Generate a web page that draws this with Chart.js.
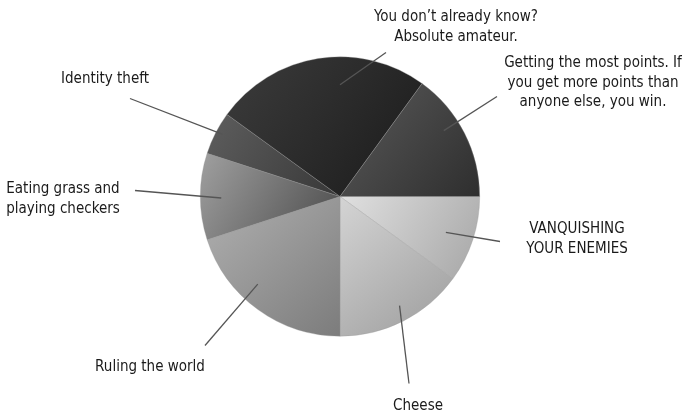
<!DOCTYPE html>
<html><head><meta charset="utf-8">
<script src="https://cdn.jsdelivr.net/npm/chart.js@4"></script>
<style>html,body{margin:0;padding:0;background:#fff}canvas{display:block}</style>
</head><body>
<canvas id="c" width="686" height="415"></canvas>
<script>
const categories = [
  ["VANQUISHING", "YOUR ENEMIES"],
  ["Cheese"],
  ["Ruling the world"],
  ["Eating grass and", "playing checkers"],
  ["Identity theft"],
  ["You don\u2019t already know?", "Absolute amateur."],
  ["Getting the most points. If", "you get more points than", "anyone else, you win."]
];
const shares = [10, 15, 20, 10, 5, 25, 15];
const lightShades = ["#e0e0e0", "#d4d4d4", "#b0b0b0", "#a0a0a0", "#5e5e5e", "#3c3c3c", "#5a5a5a"];
const darkShades  = ["#a6a6a6", "#9c9c9c", "#7c7c7c", "#4a4a4a", "#383838", "#1a1a1a", "#2e2e2e"];

// label layout: [angle fraction in slice, radius fraction, line end dx, dy, text dx, dy] relative to pie centre
const labelLayout = [
  [0.52, 0.80, 160, 45, 237, 33],
  [0.47, 0.89, 69, 187, 78, 210],
  [0.60, 0.86, -135, 149, -190, 171],
  [0.48, 0.85, -205, -6, -277, -7],
  [0.55, 0.95, -210, -98, -235, -117],
  [0.60, 0.80, 46, -144, 116, -179],
  [0.40, 0.88, 157, -100, 253, -133]
];

function sliceGradient(ctx) {
  const chart = ctx.chart, area = chart.chartArea, i = ctx.dataIndex;
  if (!area) return darkShades[i];
  const cx = (area.left + area.right) / 2, cy = (area.top + area.bottom) / 2;
  const R = Math.min(area.right - area.left, area.bottom - area.top) / 2;
  const total = shares.reduce((a, b) => a + b, 0);
  let start = 0; for (let k = 0; k < i; k++) start += shares[k];
  const a0 = start / total * 2 * Math.PI, a1 = (start + shares[i]) / total * 2 * Math.PI;
  let minX = cx, maxX = cx, minY = cy, maxY = cy;
  for (let s = 0; s <= 24; s++) {
    const a = a0 + (a1 - a0) * s / 24;
    const x = cx + R * Math.cos(a), y = cy + R * Math.sin(a);
    minX = Math.min(minX, x); maxX = Math.max(maxX, x);
    minY = Math.min(minY, y); maxY = Math.max(maxY, y);
  }
  const g = chart.ctx.createLinearGradient(minX, minY, maxX, maxY);
  g.addColorStop(0, lightShades[i]);
  g.addColorStop(1, darkShades[i]);
  return g;
}

const leaderLabels = {
  id: 'leaderLabels',
  afterDatasetsDraw(chart) {
    const c = chart.ctx;
    const meta = chart.getDatasetMeta(0);
    c.save();
    c.font = '15px "DejaVu Sans Condensed", "DejaVu Sans", sans-serif';
    c.textAlign = 'center';
    c.textBaseline = 'middle';
    meta.data.forEach((arc, i) => {
      const p = arc.getProps(['x', 'y', 'startAngle', 'endAngle', 'outerRadius'], true);
      const L = labelLayout[i];
      const a = p.startAngle + (p.endAngle - p.startAngle) * L[0];
      const r = p.outerRadius * L[1];
      const x0 = p.x + r * Math.cos(a), y0 = p.y + r * Math.sin(a);
      c.strokeStyle = '#555555';
      c.lineWidth = 1.3;
      c.beginPath();
      c.moveTo(x0, y0);
      c.lineTo(p.x + L[2], p.y + L[3]);
      c.stroke();
      c.fillStyle = '#1a1a1a';
      const lines = categories[i];
      lines.forEach((t, j) => c.fillText(t, p.x + L[4], p.y + L[5] + j * 19.5));
    });
    c.restore();
  }
};

new Chart(document.getElementById('c'), {
  type: 'pie',
  data: {
    labels: categories,
    datasets: [{
      data: shares,
      backgroundColor: sliceGradient,
      borderColor: 'rgba(150,150,150,0.55)',
      borderWidth: 0.6
    }]
  },
  options: {
    responsive: false,
    animation: false,
    rotation: 90,
    layout: { padding: { left: 200, right: 206, top: 56.5, bottom: 78.5 } },
    plugins: { legend: { display: false }, tooltip: { enabled: false } }
  },
  plugins: [leaderLabels]
});
</script>
</body></html>
